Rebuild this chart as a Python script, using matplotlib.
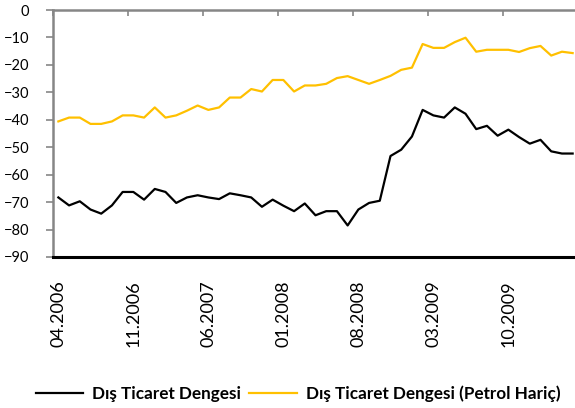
import matplotlib
matplotlib.use('Agg')
import matplotlib.pyplot as plt

plt.rcParams['font.family'] = ['Lato', 'DejaVu Sans']

# aylar: 04.2006 - 04.2010
months = ['%02d.%d' % ((3 + i) % 12 + 1, 2006 + (3 + i) // 12) for i in range(49)]

# Dış Ticaret Dengesi (milyar $, yıllık)
total = [-68.3, -71.2, -69.7, -72.7, -74.2, -71.2, -66.3, -66.3, -69.1, -65.2,
         -66.3, -70.3, -68.3, -67.5, -68.3, -68.9, -66.8, -67.5, -68.3, -71.7,
         -69.1, -71.3, -73.3, -70.5, -74.8, -73.3, -73.3, -78.5, -72.7, -70.3,
         -69.5, -53.2, -50.9, -46.1, -36.4, -38.4, -39.2, -35.5, -37.8, -43.4,
         -42.2, -45.8, -43.6, -46.3, -48.7, -47.3, -51.5, -52.3, -52.3]

# Dış Ticaret Dengesi (Petrol Hariç)
non_oil = [-40.6, -39.2, -39.2, -41.5, -41.5, -40.6, -38.4, -38.4, -39.2, -35.5,
           -39.2, -38.4, -36.7, -34.8, -36.4, -35.5, -31.9, -31.9, -28.8, -29.7,
           -25.5, -25.5, -29.7, -27.5, -27.5, -26.9, -24.8, -24.1, -25.5, -26.9,
           -25.5, -24.0, -21.8, -21.0, -12.4, -13.8, -13.8, -11.7, -10.1, -15.2,
           -14.5, -14.5, -14.5, -15.3, -13.9, -13.1, -16.6, -15.2, -15.7]

fig = plt.figure(figsize=(5.75, 4.08), dpi=100)
ax = fig.add_axes([53 / 575, 151 / 408, 525 / 575, 247 / 408])

x = list(range(len(months)))
ax.plot(x, total, color='black', lw=1.6, label='Dış Ticaret Dengesi')
ax.plot(x, non_oil, color='#FFC000', lw=1.6, label='Dış Ticaret Dengesi (Petrol Hariç)')

ax.set_xlim(-0.5, len(months) - 0.5)
ax.set_ylim(-90, 0)
ax.set_yticks(range(-90, 1, 10))
ax.tick_params(axis='y', direction='out', length=5, width=1.2, color='#868686',
               pad=12, labelsize=10.5)

# kategori ekseni üstte (0 noktasında), etiketler altta
lab_idx = x[::7]
ax.set_xticks(lab_idx)
ax.set_xticklabels([months[i] for i in lab_idx], rotation=90, fontsize=13)
ax.tick_params(axis='x', bottom=True, length=0, pad=17)
ax.set_xticks([i - 0.5 for i in x[::7]] + [len(months) - 0.5], minor=True)
ax.tick_params(axis='x', which='minor', top=True, bottom=False, direction='in',
               length=4, width=1.2, color='#868686')

for s in ['left', 'top']:
    ax.spines[s].set_color('#868686')
    ax.spines[s].set_linewidth(1.8)
ax.spines['bottom'].set_color('black')
ax.spines['bottom'].set_linewidth(2.2)
ax.spines['right'].set_visible(False)

fig.legend(loc='center', bbox_to_anchor=(298 / 575, 1 - 394 / 408), ncol=2,
           frameon=False, handlelength=2.8, columnspacing=0.5, handletextpad=0.5,
           prop={'weight': 'bold', 'size': 12.3})

plt.savefig('out.png', dpi=100)
